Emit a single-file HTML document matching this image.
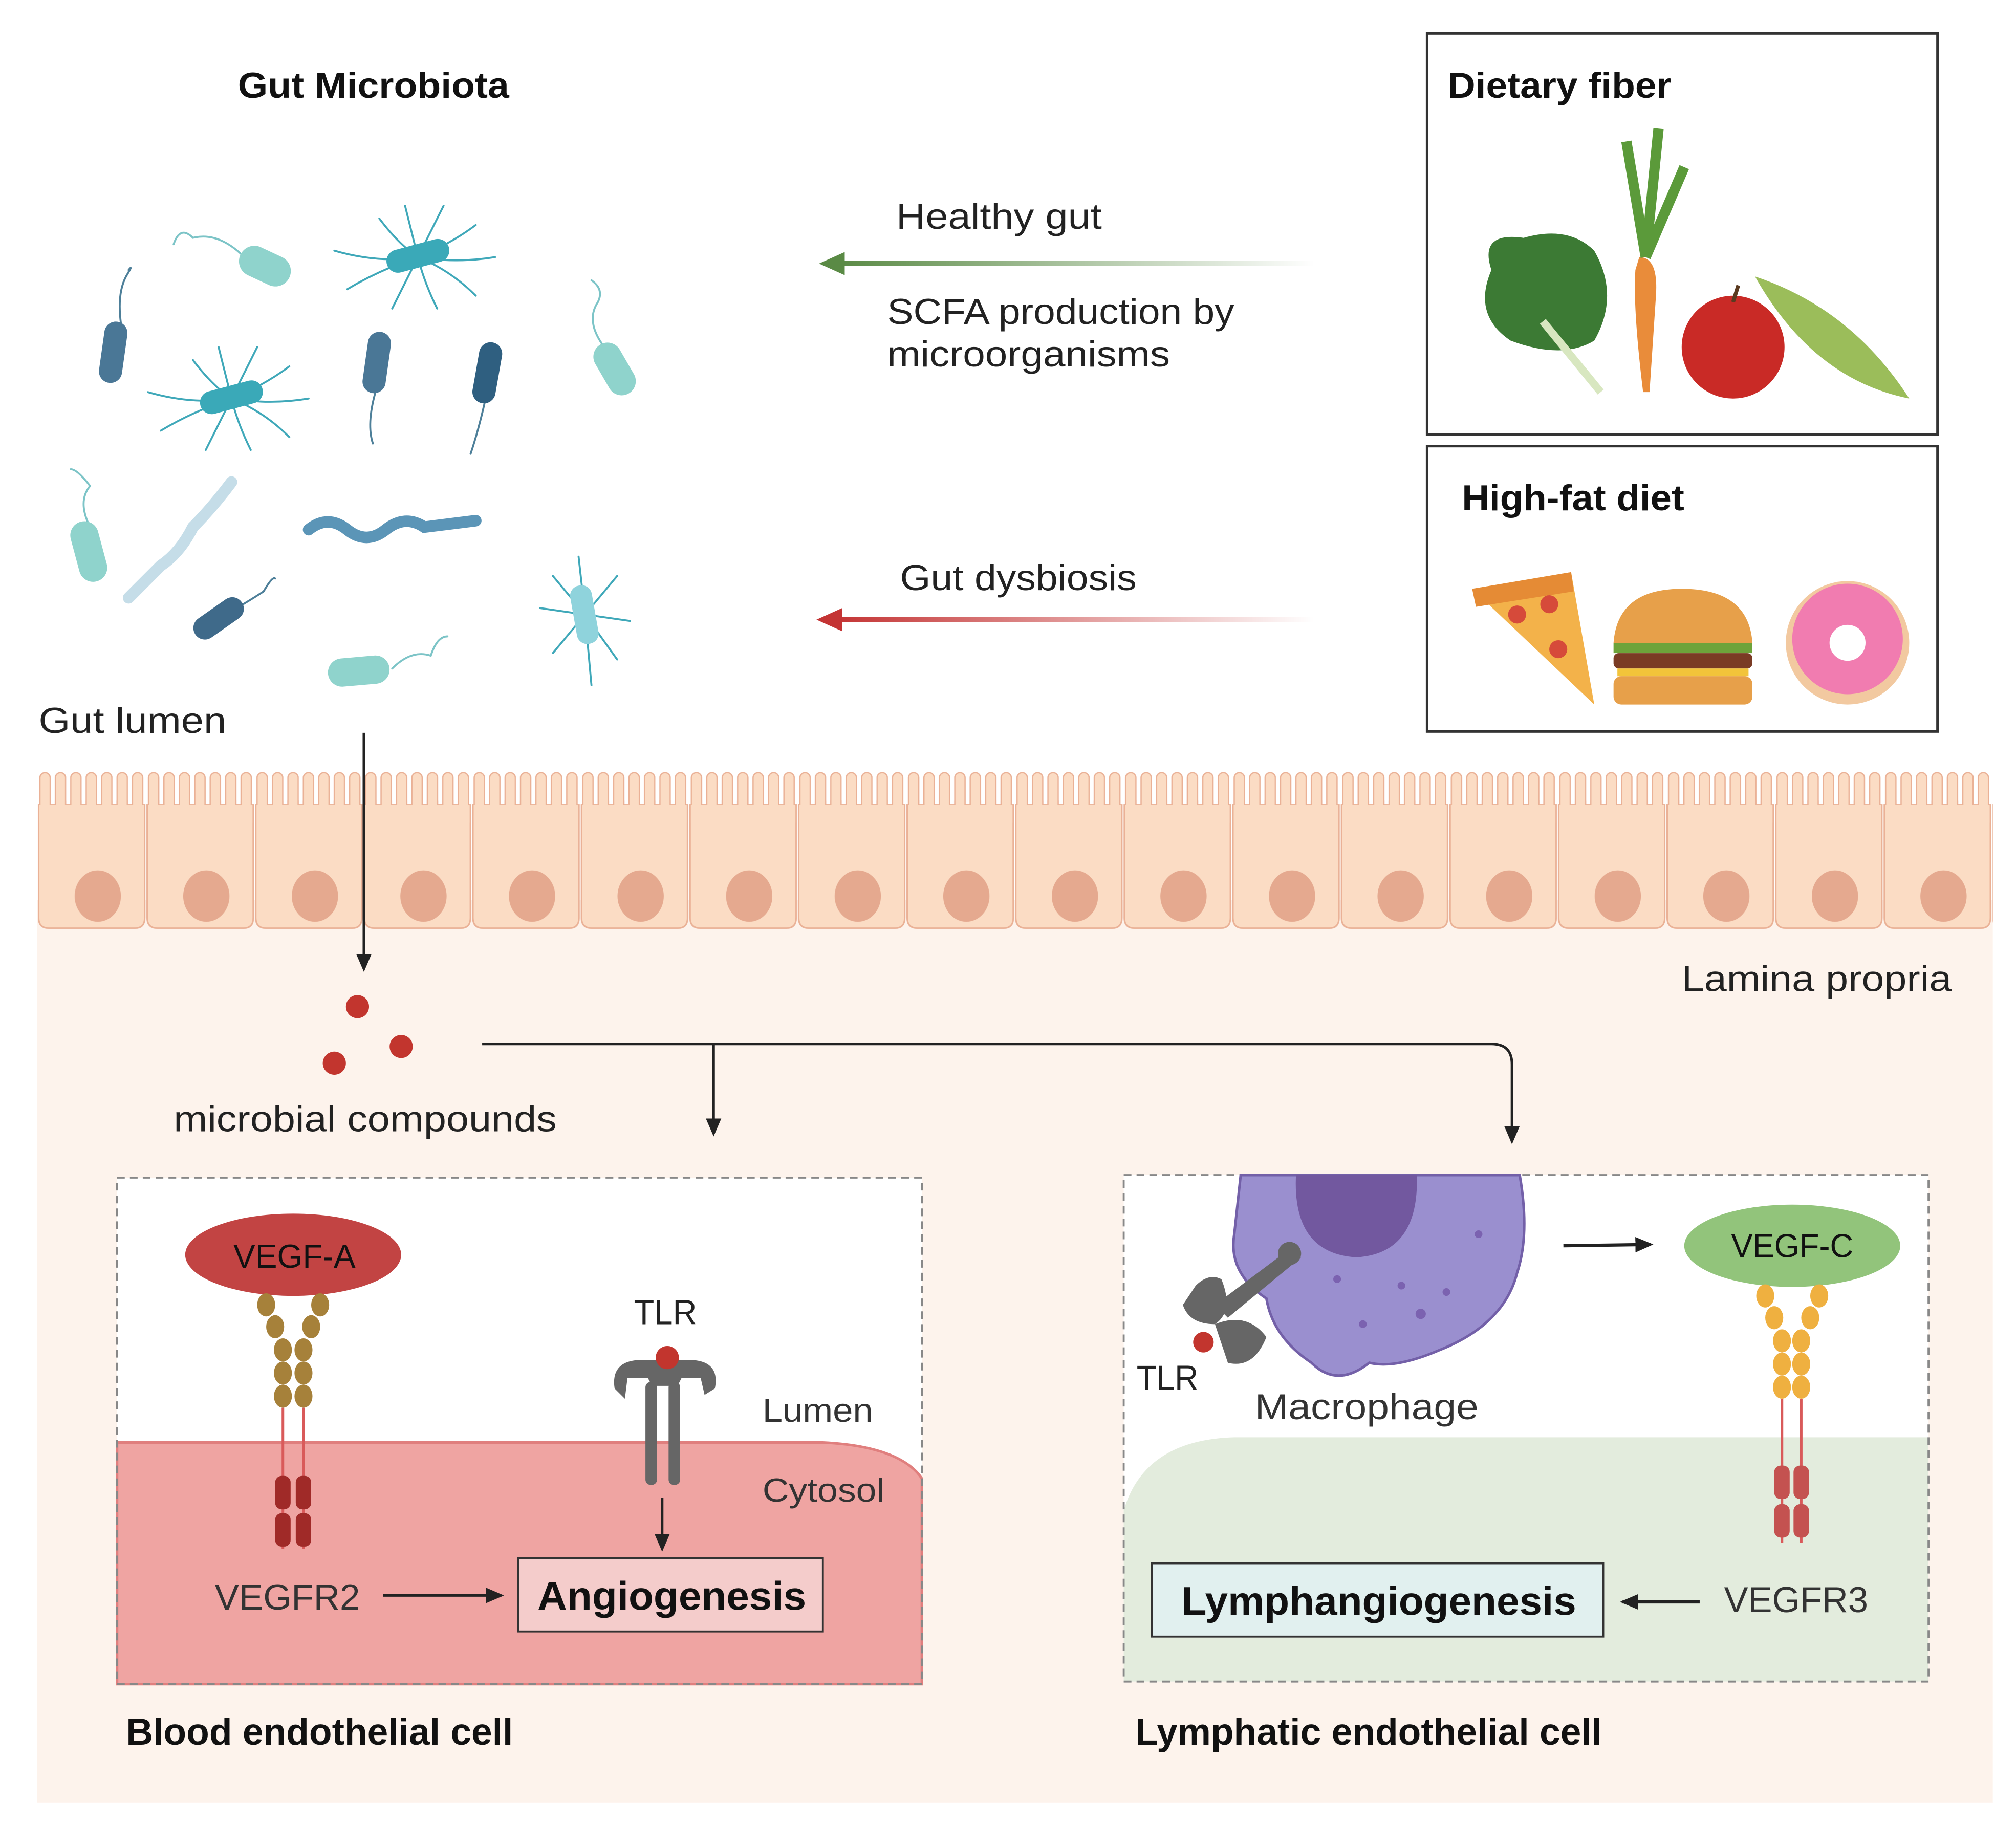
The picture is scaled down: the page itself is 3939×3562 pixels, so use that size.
<!DOCTYPE html>
<html><head><meta charset="utf-8"><style>
html,body{margin:0;padding:0;background:#fff;}
svg{display:block;}
text{font-family:"Liberation Sans",sans-serif;}
</style></head><body>
<svg width="3939" height="3562" viewBox="0 0 1568 1418" xmlns="http://www.w3.org/2000/svg">
<defs>
<pattern id="cell" patternUnits="userSpaceOnUse" x="29" y="598" width="84.45" height="130">
<path d="M1 28 L1 116 Q1 124 9 124 L76 124 Q83.5 124 83.5 116 L83.5 28 Z" fill="#fbdcc4" stroke="#eab196" stroke-width="1.2"/>
<g fill="#fbdcc4" stroke="#eab196" stroke-width="1">
<rect x="2" y="3" width="8" height="36" rx="4"/>
<rect x="14" y="3" width="8" height="36" rx="4"/>
<rect x="26" y="3" width="8" height="36" rx="4"/>
<rect x="38" y="3" width="8" height="36" rx="4"/>
<rect x="50" y="3" width="8" height="36" rx="4"/>
<rect x="62" y="3" width="8" height="36" rx="4"/>
<rect x="74" y="3" width="8" height="36" rx="4"/>
</g>
<rect x="1.6" y="28" width="81.3" height="14" fill="#fbdcc4"/>
<g fill="#fff">
<rect x="10.5" y="0" width="3" height="26" rx="1.5"/>
<rect x="22.5" y="0" width="3" height="26" rx="1.5"/>
<rect x="34.5" y="0" width="3" height="26" rx="1.5"/>
<rect x="46.5" y="0" width="3" height="26" rx="1.5"/>
<rect x="58.5" y="0" width="3" height="26" rx="1.5"/>
<rect x="70.5" y="0" width="3" height="26" rx="1.5"/>
</g>
<ellipse cx="47" cy="99" rx="18" ry="20" fill="#e5a98f"/>
</pattern>
<marker id="ah" markerWidth="14" markerHeight="14" refX="12" refY="7" orient="auto" markerUnits="userSpaceOnUse"><path d="M0 1 L14 7 L0 13 Z" fill="#222"/></marker>
<linearGradient id="gg" x1="0" x2="1"><stop offset="0" stop-color="#5a8a45"/><stop offset="1" stop-color="#5a8a45" stop-opacity="0"/></linearGradient>
<linearGradient id="rg" x1="0" x2="1"><stop offset="0" stop-color="#c43434"/><stop offset="1" stop-color="#c43434" stop-opacity="0"/></linearGradient>
</defs>

<rect x="29" y="700" width="1521" height="702" fill="#fdf3ec"/>
<rect x="29" y="598" width="1521" height="126" fill="url(#cell)"/>

<text x="185" y="76" font-size="28" font-weight="bold" fill="#111" textLength="211" lengthAdjust="spacingAndGlyphs">Gut Microbiota</text>
<text x="30" y="570" font-size="28" fill="#222" textLength="146" lengthAdjust="spacingAndGlyphs">Gut lumen</text>
<text x="1308" y="771" font-size="28" fill="#222" textLength="210" lengthAdjust="spacingAndGlyphs">Lamina propria</text>

<g stroke-linecap="round">
<g stroke="#4d7f99" stroke-width="1.5" fill="none">
<path d="M95 258 Q90 230 98 215 Q104 205 100 210"/>
<path d="M292 305 Q285 330 290 345"/>
<path d="M377 313 Q372 335 366 353"/>
<path d="M168 482 Q190 470 205 460 Q212 448 214 450"/>
</g>
<rect x="79" y="250" width="18" height="48" rx="9" fill="#4a7796" transform="rotate(8 88 274)"/>
<rect x="284" y="258" width="18" height="48" rx="9" fill="#4a7796" transform="rotate(8 293 282)"/>
<rect x="370" y="266" width="18" height="48" rx="9" fill="#2f5f80" transform="rotate(10 379 290)"/>
<rect x="148" y="472" width="44" height="18" rx="9" fill="#3f6a8a" transform="rotate(-35 170 481)"/>
<g stroke="#3fa8b9" stroke-width="1.5" fill="none">
<path d="M325 200 q-15 -10 -30 -30 M325 200 q-5 -20 -10 -40 M325 200 q10 -20 20 -40 M325 200 q25 -10 45 -25 M325 200 q30 5 60 0 M325 200 q25 10 45 30 M325 200 q5 20 15 40 M325 200 q-10 20 -20 40 M325 200 q-30 10 -55 25 M325 200 q-30 5 -65 -5"/>
<path d="M180 310 q-15 -10 -30 -30 M180 310 q-5 -20 -10 -40 M180 310 q10 -20 20 -40 M180 310 q25 -10 45 -25 M180 310 q30 5 60 0 M180 310 q25 10 45 30 M180 310 q5 20 15 40 M180 310 q-10 20 -20 40 M180 310 q-30 10 -55 25 M180 310 q-30 5 -65 -5"/>
<path d="M455 478 l-25 -30 M455 478 l-5 -45 M455 478 l25 -30 M455 478 l35 5 M455 478 l25 35 M455 478 l5 55 M455 478 l-25 30 M455 478 l-35 -5"/>
</g>
<rect x="300" y="190" width="50" height="18" rx="9" fill="#3aa9b8" transform="rotate(-15 325 199)"/>
<rect x="155" y="300" width="50" height="18" rx="9" fill="#3aa9b8" transform="rotate(-15 180 309)"/>
<rect x="446" y="455" width="17" height="46" rx="8" fill="#8fd3dc" transform="rotate(-10 455 478)"/>
<g stroke="#7cc4c7" stroke-width="1.5" fill="none">
<path d="M190 200 Q170 180 150 185 Q140 175 135 190"/>
<path d="M470 270 Q455 250 465 235 Q470 225 460 218"/>
<path d="M70 410 Q60 390 70 378 Q60 365 55 365"/>
<path d="M305 520 Q320 505 335 510 Q340 495 348 495"/>
</g>
<rect x="185" y="195" width="42" height="24" rx="12" fill="#8fd3cc" transform="rotate(25 206 207)"/>
<rect x="467" y="265" width="22" height="44" rx="11" fill="#8fd3cc" transform="rotate(-30 478 287)"/>
<rect x="58" y="405" width="22" height="48" rx="11" fill="#8fd3cc" transform="rotate(-15 69 429)"/>
<rect x="255" y="511" width="48" height="22" rx="11" fill="#8fd3cc" transform="rotate(-5 279 522)"/>
<path d="M240 412 Q255 400 270 412 T300 412 T330 410 L370 405" stroke="#5b95b7" stroke-width="9" fill="none"/>
<path d="M180 375 Q165 395 150 410 Q140 430 125 440 L100 465" stroke="#c5dde8" stroke-width="9" fill="none"/>
</g>

<rect x="652" y="203" width="370" height="4" fill="url(#gg)"/>
<path d="M637 205 L657 196 L657 214 Z" fill="#5a8a45"/>
<rect x="650" y="480" width="372" height="4" fill="url(#rg)"/>
<path d="M635 482 L655 473 L655 491 Z" fill="#c43434"/>
<text x="697" y="178" font-size="28" fill="#222" textLength="160" lengthAdjust="spacingAndGlyphs">Healthy gut</text>
<text x="690" y="252" font-size="28" fill="#222" textLength="270" lengthAdjust="spacingAndGlyphs">SCFA production by</text>
<text x="690" y="285" font-size="28" fill="#222" textLength="220" lengthAdjust="spacingAndGlyphs">microorganisms</text>
<text x="700" y="459" font-size="28" fill="#222" textLength="184" lengthAdjust="spacingAndGlyphs">Gut dysbiosis</text>

<rect x="1110" y="26" width="397" height="312" fill="#fff" stroke="#333" stroke-width="2"/>
<text x="1126" y="76" font-size="28" font-weight="bold" fill="#111" textLength="174" lengthAdjust="spacingAndGlyphs">Dietary fiber</text>
<path d="M1160 210 Q1150 180 1185 185 Q1220 175 1240 195 Q1260 230 1240 265 Q1215 280 1175 265 Q1145 245 1160 210 Z" fill="#3c7a34"/>
<path d="M1200 250 L1245 305" stroke="#d8e7c0" stroke-width="6"/>
<path d="M1275 200 Q1290 200 1288 230 L1283 305 L1278 305 Q1270 240 1272 210 Z" fill="#e98c3a"/>
<path d="M1280 200 L1265 110 M1280 200 L1290 100 M1280 200 L1310 130" stroke="#5b9a3a" stroke-width="8"/>
<circle cx="1348" cy="270" r="40" fill="#c92a26"/>
<path d="M1348 235 L1352 222" stroke="#5a3a20" stroke-width="3"/>
<path d="M1365 215 Q1440 240 1485 310 Q1410 295 1365 215 Z" fill="#9bbd5a"/>
<rect x="1110" y="347" width="397" height="222" fill="#fff" stroke="#333" stroke-width="2"/>
<text x="1137" y="397" font-size="28" font-weight="bold" fill="#111" textLength="173" lengthAdjust="spacingAndGlyphs">High-fat diet</text>
<path d="M1145 458 L1222 445 L1240 548 Z" fill="#f3b24a"/>
<path d="M1145 458 L1222 445 L1224 460 L1148 472 Z" fill="#e58b35"/>
<circle cx="1180" cy="478" r="7" fill="#d64a3a"/><circle cx="1205" cy="470" r="7" fill="#d64a3a"/><circle cx="1212" cy="505" r="7" fill="#d64a3a"/>
<path d="M1255 500 Q1258 458 1308 458 Q1360 458 1363 500 Z" fill="#e7a04a"/>
<rect x="1255" y="500" width="108" height="8" fill="#6da33a"/>
<rect x="1255" y="508" width="108" height="12" rx="4" fill="#7a3b24"/>
<rect x="1258" y="520" width="102" height="6" fill="#f2c43a"/>
<rect x="1255" y="526" width="108" height="22" rx="6" fill="#e7a04a"/>
<circle cx="1437" cy="500" r="48" fill="#f2c9a0"/>
<circle cx="1437" cy="497" r="43" fill="#f17cb0"/>
<circle cx="1437" cy="500" r="14" fill="#fff"/>

<line x1="283" y1="570" x2="283" y2="754" stroke="#222" stroke-width="2" marker-end="url(#ah)"/>
<circle cx="278" cy="783" r="9" fill="#c2352e"/>
<circle cx="312" cy="814" r="9" fill="#c2352e"/>
<circle cx="260" cy="827" r="9" fill="#c2352e"/>
<text x="135" y="880" font-size="28" fill="#222" textLength="298" lengthAdjust="spacingAndGlyphs">microbial compounds</text>
<path d="M375 812 L1160 812 Q1176 812 1176 828 L1176 888" stroke="#222" stroke-width="2" fill="none" marker-end="url(#ah)"/>
<line x1="555" y1="812" x2="555" y2="882" stroke="#222" stroke-width="2" marker-end="url(#ah)"/>

<rect x="91" y="916" width="626" height="394" fill="#fff"/>
<path d="M91 1122 L640 1122 Q700 1125 717 1150 L717 1310 L91 1310 Z" fill="#efa4a2" stroke="#e07f7e" stroke-width="2"/>
<rect x="91" y="916" width="626" height="394" fill="none" stroke="#888" stroke-width="1.5" stroke-dasharray="6 4"/>
<ellipse cx="228" cy="976" rx="84" ry="32" fill="#c24443"/>
<text x="229" y="986" font-size="26" fill="#111" text-anchor="middle" textLength="95" lengthAdjust="spacingAndGlyphs">VEGF-A</text>
<g fill="#a6813a">
<ellipse cx="207" cy="1015" rx="7" ry="9"/><ellipse cx="249" cy="1015" rx="7" ry="9"/>
<ellipse cx="214" cy="1032" rx="7" ry="9"/><ellipse cx="242" cy="1032" rx="7" ry="9"/>
<ellipse cx="220" cy="1050" rx="7" ry="9"/><ellipse cx="236" cy="1050" rx="7" ry="9"/>
<ellipse cx="220" cy="1068" rx="7" ry="9"/><ellipse cx="236" cy="1068" rx="7" ry="9"/>
<ellipse cx="220" cy="1086" rx="7" ry="9"/><ellipse cx="236" cy="1086" rx="7" ry="9"/>
</g>
<path d="M220 1095 L220 1205 M236 1095 L236 1205" stroke="#d95a5a" stroke-width="2"/>
<g fill="#a02a28"><rect x="214" y="1148" width="12" height="26" rx="5"/><rect x="230" y="1148" width="12" height="26" rx="5"/><rect x="214" y="1177" width="12" height="26" rx="5"/><rect x="230" y="1177" width="12" height="26" rx="5"/></g>
<text x="167" y="1252" font-size="28" fill="#333" textLength="113" lengthAdjust="spacingAndGlyphs">VEGFR2</text>
<line x1="298" y1="1241" x2="390" y2="1241" stroke="#222" stroke-width="2" marker-end="url(#ah)"/>
<rect x="403" y="1212" width="237" height="57" fill="#f4cccb" stroke="#333" stroke-width="1.5"/>
<text x="418" y="1252" font-size="31" font-weight="bold" fill="#111" textLength="209" lengthAdjust="spacingAndGlyphs">Angiogenesis</text>
<text x="493" y="1030" font-size="27" fill="#222" textLength="49" lengthAdjust="spacingAndGlyphs">TLR</text>
<g fill="#666">
<path d="M478 1080 Q475 1060 495 1058 L540 1058 Q560 1060 556 1080 L548 1085 L545 1072 L530 1072 L527 1078 L507 1078 L504 1072 L488 1072 L486 1088 Z"/>
<rect x="502" y="1075" width="9" height="80" rx="4"/><rect x="520" y="1075" width="9" height="80" rx="4"/>
</g>
<circle cx="519" cy="1056" r="9" fill="#c2352e"/>
<line x1="515" y1="1165" x2="515" y2="1205" stroke="#222" stroke-width="2" marker-end="url(#ah)"/>
<text x="593" y="1106" font-size="26" fill="#333" textLength="86" lengthAdjust="spacingAndGlyphs">Lumen</text>
<text x="593" y="1168" font-size="26" fill="#333" textLength="95" lengthAdjust="spacingAndGlyphs">Cytosol</text>
<text x="98" y="1357" font-size="29" font-weight="bold" fill="#111" textLength="301" lengthAdjust="spacingAndGlyphs">Blood endothelial cell</text>

<rect x="874" y="914" width="626" height="394" fill="#fff"/>
<path d="M874 1175 Q890 1120 960 1118 L1500 1118 L1500 1308 L874 1308 Z" fill="#e3ecdd"/>
<rect x="874" y="914" width="626" height="394" fill="none" stroke="#888" stroke-width="1.5" stroke-dasharray="6 4"/>
<path d="M965 914 L1182 914 Q1190 960 1180 990 Q1170 1030 1120 1050 Q1085 1065 1065 1060 Q1040 1080 1020 1060 Q990 1040 985 1010 Q955 990 960 960 Z" fill="#9a8fcf" stroke="#7360a8" stroke-width="2"/>
<path d="M1008 914 Q1005 975 1055 978 Q1104 975 1102 914 Z" fill="#72589f"/>
<g fill="#7b62b0"><circle cx="1040" cy="995" r="3"/><circle cx="1090" cy="1000" r="3"/><circle cx="1125" cy="1005" r="3"/><circle cx="1060" cy="1030" r="3"/><circle cx="1150" cy="960" r="3"/><circle cx="1105" cy="1022" r="4"/></g>
<g fill="#666">
<path d="M930 1000 Q940 990 950 995 Q960 1020 945 1030 Q925 1030 920 1015 Z"/>
<path d="M945 1030 Q970 1020 985 1040 Q975 1065 955 1060 Z"/>
<path d="M945 1015 L1005 970 L1012 978 L955 1025 Z"/>
<circle cx="1003" cy="975" r="9"/>
</g>
<circle cx="936" cy="1044" r="8" fill="#c2352e"/>
<text x="884" y="1081" font-size="27" fill="#222" textLength="48" lengthAdjust="spacingAndGlyphs">TLR</text>
<text x="976" y="1104" font-size="28" fill="#333" textLength="174" lengthAdjust="spacingAndGlyphs">Macrophage</text>
<line x1="1216" y1="969" x2="1284" y2="968" stroke="#222" stroke-width="2.5" marker-end="url(#ah)"/>
<ellipse cx="1394" cy="969" rx="84" ry="32" fill="#92c47b"/>
<text x="1394" y="978" font-size="26" fill="#111" text-anchor="middle" textLength="95" lengthAdjust="spacingAndGlyphs">VEGF-C</text>
<g fill="#efb040">
<ellipse cx="1373" cy="1008" rx="7" ry="9"/><ellipse cx="1415" cy="1008" rx="7" ry="9"/>
<ellipse cx="1380" cy="1025" rx="7" ry="9"/><ellipse cx="1408" cy="1025" rx="7" ry="9"/>
<ellipse cx="1386" cy="1043" rx="7" ry="9"/><ellipse cx="1401" cy="1043" rx="7" ry="9"/>
<ellipse cx="1386" cy="1061" rx="7" ry="9"/><ellipse cx="1401" cy="1061" rx="7" ry="9"/>
<ellipse cx="1386" cy="1079" rx="7" ry="9"/><ellipse cx="1401" cy="1079" rx="7" ry="9"/>
</g>
<path d="M1386 1088 L1386 1200 M1401 1088 L1401 1200" stroke="#d95a5a" stroke-width="2"/>
<g fill="#c45250"><rect x="1380" y="1140" width="12" height="26" rx="5"/><rect x="1395" y="1140" width="12" height="26" rx="5"/><rect x="1380" y="1170" width="12" height="26" rx="5"/><rect x="1395" y="1170" width="12" height="26" rx="5"/></g>
<text x="1341" y="1254" font-size="28" fill="#333" textLength="112" lengthAdjust="spacingAndGlyphs">VEGFR3</text>
<line x1="1322" y1="1246" x2="1262" y2="1246" stroke="#222" stroke-width="2.5" marker-end="url(#ah)"/>
<rect x="896" y="1216" width="351" height="57" fill="#e1f0ef" stroke="#333" stroke-width="1.5"/>
<text x="919" y="1256" font-size="31" font-weight="bold" fill="#111" textLength="307" lengthAdjust="spacingAndGlyphs">Lymphangiogenesis</text>
<text x="883" y="1357" font-size="29" font-weight="bold" fill="#111" textLength="363" lengthAdjust="spacingAndGlyphs">Lymphatic endothelial cell</text>
</svg>
</body></html>
